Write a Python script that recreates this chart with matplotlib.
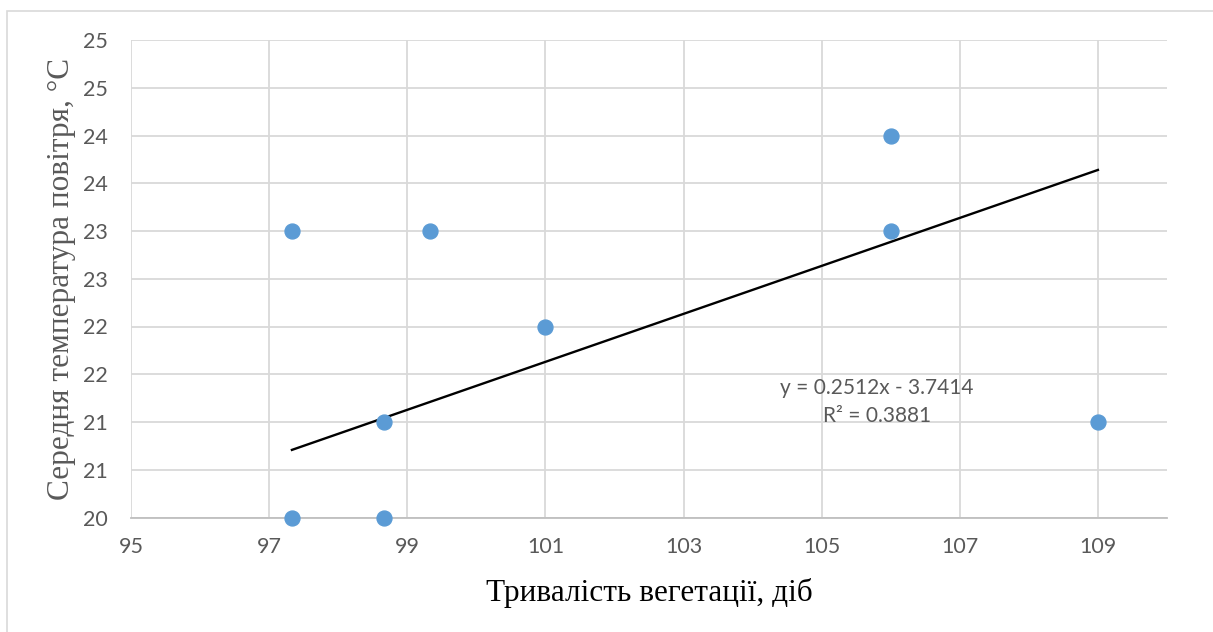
import matplotlib.pyplot as plt
from matplotlib.patches import Rectangle

# data
days = [97.33, 98.67, 97.33, 99.33, 101.0, 98.67, 106.0, 106.0, 109.0]
temp = [20.0, 20.0, 23.0, 23.0, 22.0, 21.0, 24.0, 23.0, 21.0]

# trendline as printed on the chart
slope = 0.2512
intercept = -3.7414
r2 = 0.3881

x_ticks = [95, 97, 99, 101, 103, 105, 107, 109]
y_ticks = [20, 20.5, 21, 21.5, 22, 22.5, 23, 23.5, 24, 24.5, 25]
y_tick_labels = ['20', '21', '21', '22', '22', '23', '23', '24', '24', '25', '25']

grid_c = '#d9d9d9'
text_c = '#595959'

fig = plt.figure(figsize=(12.13, 6.32), dpi=100)
ax = fig.add_axes([131 / 1213, 1 - 517.5 / 632, (1167 - 131) / 1213, (517.5 - 40) / 632])

# outer chart frame (right and bottom edges fall outside the image)
fig.patches.append(Rectangle((7 / 1213, -0.1), 1.2, 1.1 - 11 / 632,
                             transform=fig.transFigure, fill=False,
                             edgecolor='#d9d9d9', linewidth=1.2))

ax.set_xlim(95, 110)
ax.set_ylim(20, 25)
ax.set_xticks(x_ticks)
ax.set_yticks(y_ticks)
ax.set_yticklabels(y_tick_labels)

ax.grid(True, color=grid_c, linewidth=1.3)
ax.set_axisbelow(True)
for side in ['top', 'right', 'left']:
    ax.spines[side].set_visible(False)
ax.spines['bottom'].set_color('#bfbfbf')
ax.spines['bottom'].set_linewidth(1.3)
ax.tick_params(length=0, labelsize=15.5, labelcolor=text_c)
for lab in ax.get_xticklabels() + ax.get_yticklabels():
    lab.set_fontfamily('Lato')
ax.tick_params(axis='x', pad=14)
ax.tick_params(axis='y', pad=17)

# trendline
x0, x1 = min(days), max(days)
ax.plot([x0, x1], [slope * x0 + intercept, slope * x1 + intercept],
        color='black', linewidth=1.7, zorder=2)

ax.scatter(days, temp, s=115, color='#5b9bd5', zorder=3, clip_on=False)

ax.text(105.8, 21.36, f'y = {slope}x - {abs(intercept)}', ha='center', va='center',
        fontsize=15, color=text_c, family='Lato')
ax.text(105.8, 21.06, f'R² = {r2}', ha='center', va='center',
        fontsize=15, color=text_c, family='Lato')

ax.set_xlabel('Тривалість вегетації, діб', family='Liberation Serif', fontsize=22.5,
              color='black', labelpad=15)
ax.set_ylabel('Середня температура повітря, °С', family='Liberation Serif', fontsize=22.5,
              color=text_c, labelpad=5)

fig.savefig('out.png', dpi=100)
